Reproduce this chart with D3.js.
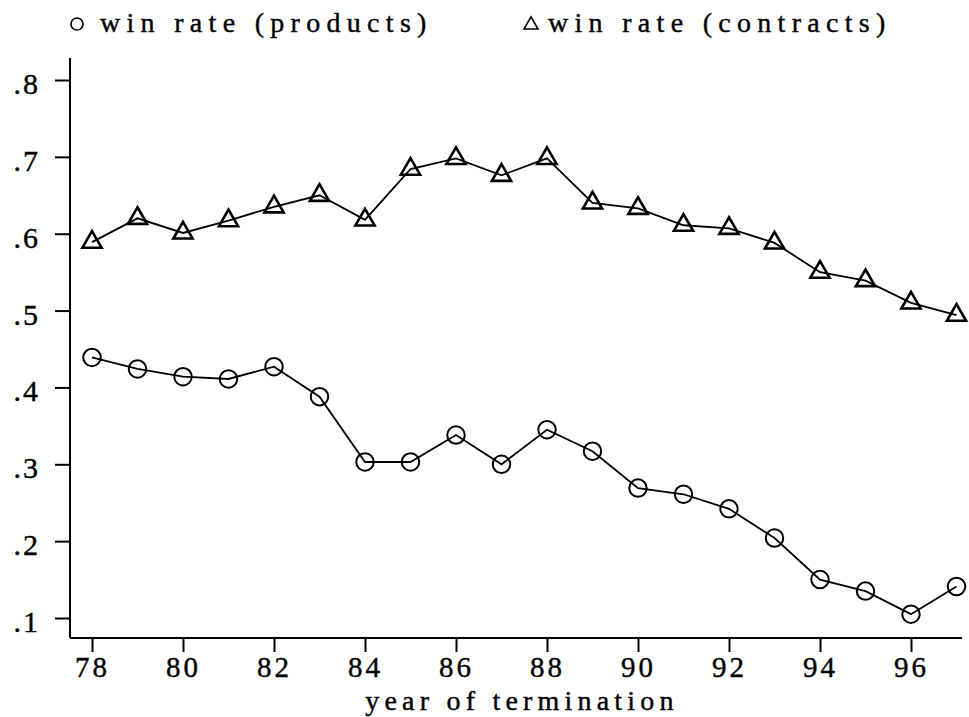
<!DOCTYPE html>
<html>
<head>
<meta charset="utf-8">
<script src="https://cdn.jsdelivr.net/npm/d3@7"></script>
<style>
  body { margin: 0; background: #fff; }
  text { font-family: "Liberation Serif", "DejaVu Serif", serif; fill: #000; stroke: #000; stroke-width: 0.4px; }
</style>
</head>
<body>
<div id="chart"></div>
<script>
// 데이터
const years = [78, 79, 80, 81, 82, 83, 84, 85, 86, 87, 88, 89, 90, 91, 92, 93, 94, 95, 96, 97];
const winProducts = [0.439, 0.424, 0.414, 0.411, 0.427, 0.388, 0.303, 0.303, 0.338, 0.300,
  0.345, 0.317, 0.269, 0.261, 0.242, 0.204, 0.150, 0.135, 0.105, 0.141];
const winContracts = [0.589, 0.620, 0.601, 0.617, 0.635, 0.650, 0.618, 0.684, 0.698, 0.676,
  0.698, 0.640, 0.633, 0.611, 0.607, 0.588, 0.550, 0.539, 0.510, 0.494];
const xTicks = [78, 80, 82, 84, 86, 88, 90, 92, 94, 96];
const yTicks = [0.1, 0.2, 0.3, 0.4, 0.5, 0.6, 0.7, 0.8];
const legendLabels = ["win rate (products)", "win rate (contracts)"];
const xTitle = "year of termination";

const width = 969;
const height = 717;

const svg = d3
  .select("#chart")
  .append("svg")
  .attr("width", width)
  .attr("height", height);

const x = d3.scaleLinear().domain([78, 96]).range([92, 911]);
const y = d3.scaleLinear().domain([0.1, 0.8]).range([618, 80]);

const axisX = 70; // y축 위치
const axisY = 638; // x축 위치

// 축 선
svg.append("line")
  .attr("x1", axisX).attr("x2", axisX)
  .attr("y1", 58).attr("y2", axisY)
  .attr("stroke", "#000").attr("stroke-width", 2);
svg.append("line")
  .attr("x1", axisX).attr("x2", 962)
  .attr("y1", axisY).attr("y2", axisY)
  .attr("stroke", "#000").attr("stroke-width", 2);

// y축
const gy = svg.append("g")
  .attr("transform", `translate(${axisX},0)`)
  .call(d3.axisLeft(y).tickValues(yTicks).tickSize(15).tickPadding(15)
    .tickFormat((d) => d3.format(".1f")(d).replace(/^0/, "")));
gy.select(".domain").remove();
gy.selectAll("line").attr("stroke-width", 2);
gy.selectAll("text").style("font-size", "30px").attr("dy", "0.45em")
  .style("letter-spacing", "2px");

// x축
const gx = svg.append("g")
  .attr("transform", `translate(0,${axisY})`)
  .call(d3.axisBottom(x).tickValues(xTicks).tickSize(14).tickPadding(4));
gx.select(".domain").remove();
gx.selectAll("line").attr("stroke-width", 2);
gx.selectAll("text").style("font-size", "29px").style("letter-spacing", "3px");

svg.append("text")
  .attr("x", 522)
  .attr("y", 710)
  .attr("text-anchor", "middle")
  .style("font-size", "28px")
  .style("letter-spacing", "5.2px")
  .text(xTitle);

// 선
const line = d3.line().x((d) => x(d[0])).y((d) => y(d[1]));
const prodPts = years.map((yr, i) => [yr, winProducts[i]]);
const contPts = years.map((yr, i) => [yr, winContracts[i]]);

svg.append("path").datum(prodPts).attr("d", line)
  .attr("fill", "none").attr("stroke", "#000").attr("stroke-width", 1.8);
svg.append("path").datum(contPts).attr("d", line)
  .attr("fill", "none").attr("stroke", "#000").attr("stroke-width", 1.8);

// 마커
const circleSym = d3.symbol().type(d3.symbolCircle).size(240);
const triSym = d3.symbol().type(d3.symbolTriangle).size(160);

svg.selectAll(".prod")
  .data(prodPts).enter().append("path")
  .attr("class", "prod")
  .attr("d", circleSym)
  .attr("transform", (d) => `translate(${x(d[0])},${y(d[1])})`)
  .attr("fill", "none").attr("stroke", "#000").attr("stroke-width", 2);

svg.selectAll(".cont")
  .data(contPts).enter().append("path")
  .attr("class", "cont")
  .attr("d", triSym)
  .attr("transform", (d) => `translate(${x(d[0])},${y(d[1])})`)
  .attr("fill", "none").attr("stroke", "#000").attr("stroke-width", 2.6);

// 범례
const legend = svg.append("g");
legend.append("path")
  .attr("d", d3.symbol().type(d3.symbolCircle).size(115))
  .attr("transform", "translate(77,24)")
  .attr("fill", "none").attr("stroke", "#000").attr("stroke-width", 1.6);
legend.append("text")
  .attr("x", 100).attr("y", 32)
  .style("font-size", "28px").style("letter-spacing", "6.3px")
  .text(legendLabels[0]);
legend.append("path")
  .attr("d", d3.symbol().type(d3.symbolTriangle).size(85))
  .attr("transform", "translate(531,25)")
  .attr("fill", "none").attr("stroke", "#000").attr("stroke-width", 1.6);
legend.append("text")
  .attr("x", 548).attr("y", 32)
  .style("font-size", "28px").style("letter-spacing", "6.3px")
  .text(legendLabels[1]);
</script>
</body>
</html>
